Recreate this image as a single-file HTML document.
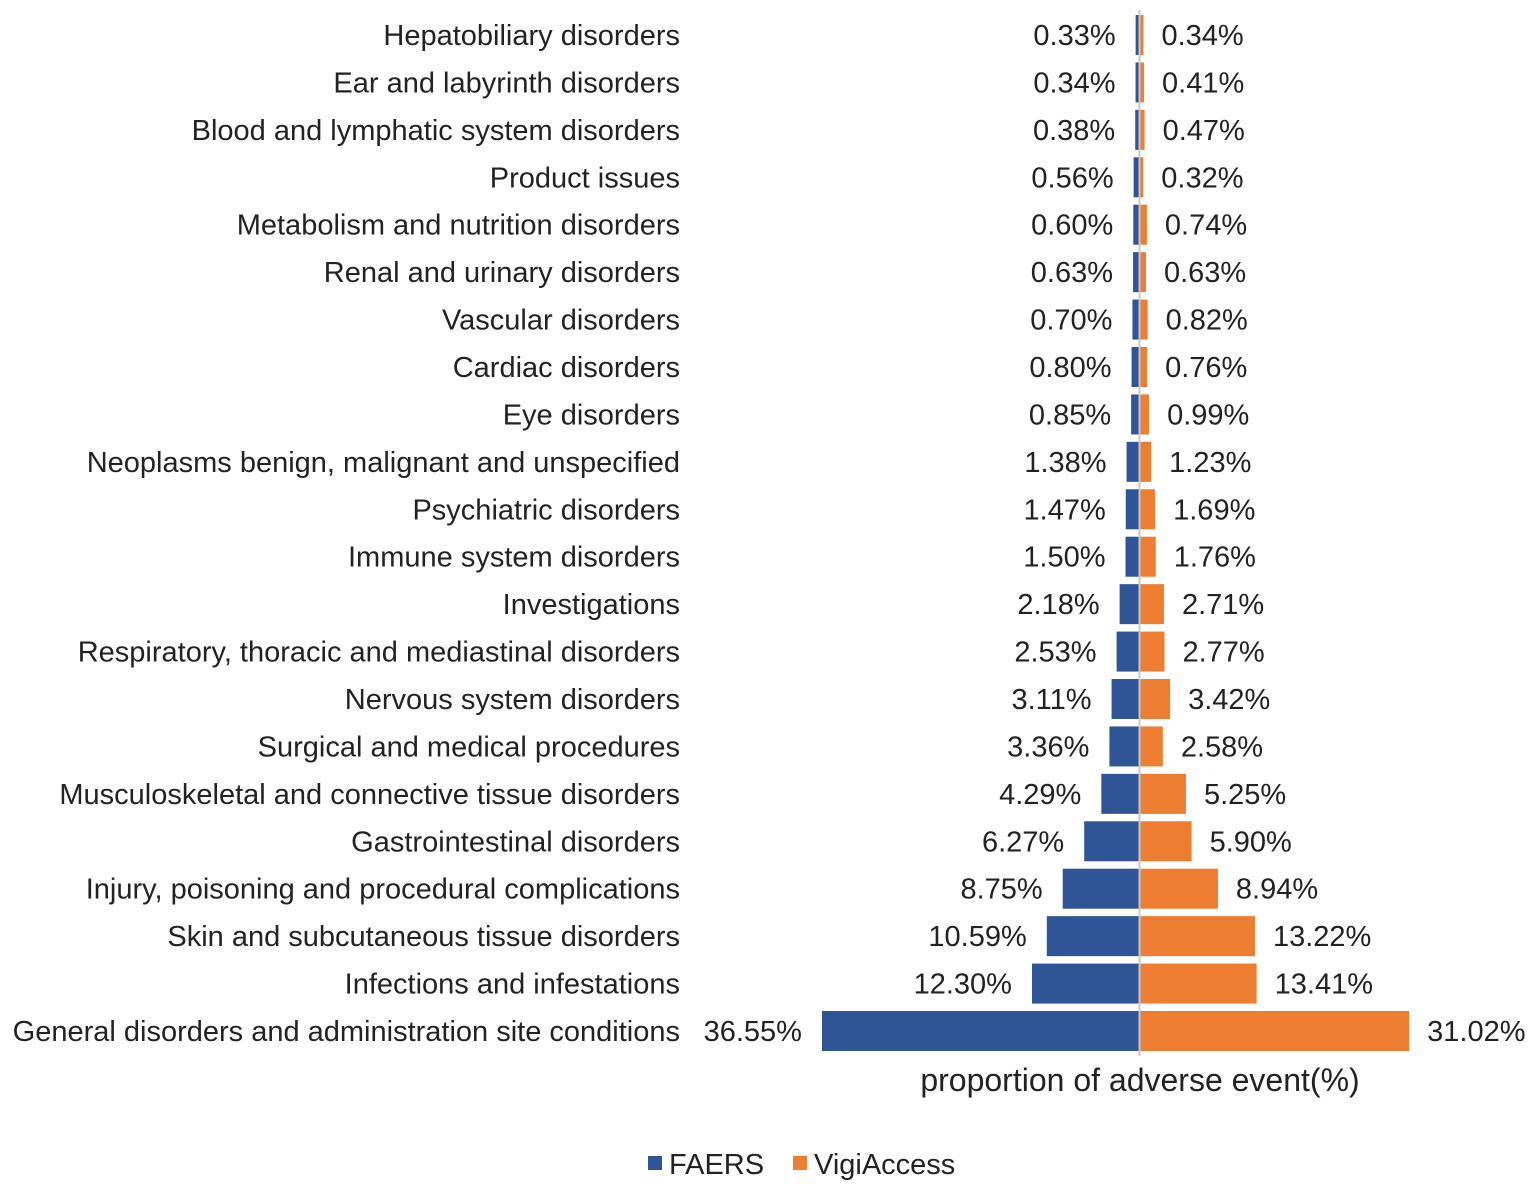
<!DOCTYPE html>
<html><head><meta charset="utf-8"><style>
html,body{margin:0;padding:0;background:#fff;}
svg{display:block;font-family:"Liberation Sans",Arial,sans-serif;}
</style></head><body>
<svg id="chart" width="1535" height="1192" xmlns="http://www.w3.org/2000/svg">
<line x1="1139.5" y1="10" x2="1139.5" y2="1056" stroke="#c8c8c8" stroke-width="2"/>
<g id="bars"></g>
<text x="1140" y="1091" font-size="32" text-anchor="middle" fill="#222">proportion of adverse event(%)</text>
<g>
<rect x="648" y="1156" width="14" height="14" fill="#2F5597"/>
<text x="669" y="1174" font-size="29" fill="#222">FAERS</text>
<rect x="793" y="1156" width="14" height="14" fill="#ED7D31"/>
<text x="814" y="1174" font-size="29" fill="#222">VigiAccess</text>
</g>
</svg>
<script>
const categories=["Hepatobiliary disorders","Ear and labyrinth disorders","Blood and lymphatic system disorders","Product issues","Metabolism and nutrition disorders","Renal and urinary disorders","Vascular disorders","Cardiac disorders","Eye disorders","Neoplasms benign, malignant and unspecified","Psychiatric disorders","Immune system disorders","Investigations","Respiratory, thoracic and mediastinal disorders","Nervous system disorders","Surgical and medical procedures","Musculoskeletal and connective tissue disorders","Gastrointestinal disorders","Injury, poisoning and procedural complications","Skin and subcutaneous tissue disorders","Infections and infestations","General disorders and administration site conditions"];
const faers=[0.33,0.34,0.38,0.56,0.60,0.63,0.70,0.80,0.85,1.38,1.47,1.50,2.18,2.53,3.11,3.36,4.29,6.27,8.75,10.59,12.30,36.55];
const vigi=[0.34,0.41,0.47,0.32,0.74,0.63,0.82,0.76,0.99,1.23,1.69,1.76,2.71,2.77,3.42,2.58,5.25,5.90,8.94,13.22,13.41,31.02];
const cx=1139.5, pxPer=8.66, y0=35, step=(1031-35)/21, bh=40;
const x=v=>v*pxPer; const y=i=>y0+i*step;
const g=document.getElementById('bars'); const NS="http://www.w3.org/2000/svg";
function mk(tag,attrs,txt){const e=document.createElementNS(NS,tag);for(const k in attrs)e.setAttribute(k,attrs[k]);if(txt!=null)e.textContent=txt;g.appendChild(e);return e;}
categories.forEach((c,i)=>{
 const yc=y(i);
 const t=mk('text',{x:680,y:yc+10,'font-size':29,'text-anchor':'end',fill:'#222'},c);
 
 
 const b1=mk('rect',{x:cx-1-x(faers[i]),y:yc-bh/2,width:x(faers[i]),height:bh,fill:'#2F5597'});
 
 
 const b2=mk('rect',{x:cx+1,y:yc-bh/2,width:x(vigi[i]),height:bh,fill:'#ED7D31'});
 
 
 const l1=mk('text',{x:cx-1-x(faers[i])-20,y:yc+10,'font-size':29,'text-anchor':'end',fill:'#222'},faers[i].toFixed(2)+'%');
 
 
 const l2=mk('text',{x:cx+1+x(vigi[i])+18,y:yc+10,'font-size':29,'text-anchor':'start',fill:'#222'},vigi[i].toFixed(2)+'%');
 
 
});
</script>
</body></html>
